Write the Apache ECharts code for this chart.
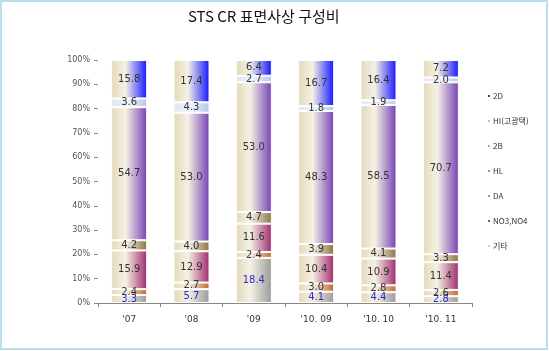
<!DOCTYPE html>
<html lang="ko">
<head>
<meta charset="utf-8">
<title>STS CR 표면사상 구성비</title>
<script src="https://cdn.jsdelivr.net/npm/echarts@6/dist/echarts.min.js"></script>
<style>
    html, body { margin: 0; padding: 0; background: #fff; }
    #main { width: 549px; height: 351px; }
</style>
</head>
<body>
<div id="main"></div>
<script type="text/javascript">
    // 카테고리
    var categories = ["'07", "'08", "'09", "'10. 09", "'10. 10", "'10. 11"];
    // 시리즈 (아래에서 위로 쌓는 순서)
    var etc   = [3.3, 5.7, 18.4, 4.1, 4.4, 2.8];      // 기타
    var no3   = [2.4, 2.7, 2.4, 3.0, 2.8, 2.6];       // NO3,NO4
    var da    = [15.9, 12.9, 11.6, 10.4, 10.9, 11.4]; // DA
    var hl    = [4.2, 4.0, 4.7, 3.9, 4.1, 3.3];       // HL
    var b2    = [54.7, 53.0, 53.0, 48.3, 58.5, 70.7]; // 2B
    var hi    = [3.6, 4.3, 2.7, 1.8, 1.9, 2.0];       // HI(고광택)
    var d2    = [15.8, 17.4, 6.4, 16.7, 16.4, 7.2];   // 2D
    var yTicks = ['0%', '10%', '20%', '30%', '40%', '50%', '60%', '70%', '80%', '90%', '100%'];

    var defs = [
        { name: '기타', data: etc, color: '#9a9a9a', legend: '#d0d0d0', label: '#2b2bcc' },
        { name: 'NO3,NO4', data: no3, color: '#c0682f', legend: '#a04848', label: '#333' },
        { name: 'DA', data: da, color: '#9e2a6c', legend: '#e07aa0', label: '#333' },
        { name: 'HL', data: hl, color: '#8c7444', legend: '#6cb86c', label: '#333' },
        { name: '2B', data: b2, color: '#7440b4', legend: '#b9a0d8', label: '#333' },
        { name: 'HI(고광택)', data: hi, color: '#b4c6ec', legend: '#a9c8ee', label: '#333' },
        { name: '2D', data: d2, color: '#1414ff', legend: '#3a3ab0', label: '#333' }
    ];

    // 100% 누적: 각 막대 합계로 정규화
    var totals = categories.map(function (c, i) {
        var s = 0;
        defs.forEach(function (d) { s += d.data[i]; });
        return s;
    });

    var series = defs.map(function (d) {
        var grad = d.name === 'HI(고광택)'
            ? new echarts.graphic.LinearGradient(0, 0, 1, 0, [
                { offset: 0, color: '#dfe6f2' }, { offset: 0.5, color: '#eef2fa' }, { offset: 1, color: d.color }])
            : new echarts.graphic.LinearGradient(0, 0, 1, 0, [
                { offset: 0, color: '#e3d9b8' }, { offset: 0.4, color: '#f5f1e4' }, { offset: 1, color: d.color }]);
        return {
            name: d.name,
            type: 'bar',
            stack: 'total',
            barWidth: 36,
            data: d.data.map(function (v, i) { return v / totals[i] * 100; }),
            itemStyle: { color: grad, borderColor: '#fff', borderWidth: 1 },
            label: {
                show: true,
                position: 'inside',
                fontSize: 10,
                fontFamily: 'DejaVu Sans',
                color: d.label,
                formatter: function (p) { return d.data[p.dataIndex].toFixed(1); }
            }
        };
    });

    var myChart = echarts.init(document.getElementById('main'));
    var option = {
        animation: false,
        backgroundColor: '#fff',
        title: {
            text: 'STS CR 표면사상 구성비',
            left: 183,
            top: 4,
            textStyle: { fontSize: 15, fontWeight: 'normal', color: '#111', fontFamily: 'Noto Sans CJK KR' }
        },
        legend: {
            orient: 'vertical',
            left: 481,
            top: 87,
            itemWidth: 4,
            itemHeight: 4,
            itemGap: 17,
            icon: 'rect',
            textStyle: { fontSize: 8, color: '#333', fontFamily: 'Noto Sans CJK KR', padding: [0, 0, 0, -3] },
            data: defs.slice().reverse().map(function (d) {
                return { name: d.name, itemStyle: { color: d.legend } };
            })
        },
        graphic: [{
            type: 'rect',
            shape: { x: 1, y: 1, width: 546, height: 348 },
            style: { fill: 'none', stroke: '#b6e2ea', lineWidth: 2 },
            silent: true
        }],
        grid: { left: 98, right: 77, top: 60, bottom: 48 },
        xAxis: {
            type: 'category',
            data: categories,
            axisLine: { lineStyle: { color: '#888' } },
            axisTick: { show: true, alignWithLabel: false, length: 4, lineStyle: { color: '#888' } },
            axisLabel: { fontSize: 9, color: '#333', margin: 12, fontFamily: 'DejaVu Sans' }
        },
        yAxis: {
            type: 'value',
            min: 0,
            max: 100,
            interval: 10,
            axisLine: { show: false },
            axisTick: { show: true, length: 4, inside: false, lineStyle: { color: '#888' } },
            splitLine: { show: false },
            axisLabel: {
                fontSize: 8,
                color: '#555',
                margin: 8,
                fontFamily: 'DejaVu Sans',
                formatter: function (v) { return yTicks[Math.round(v / 10)]; }
            }
        },
        series: series
    };
    myChart.setOption(option);
</script>
</body>
</html>
